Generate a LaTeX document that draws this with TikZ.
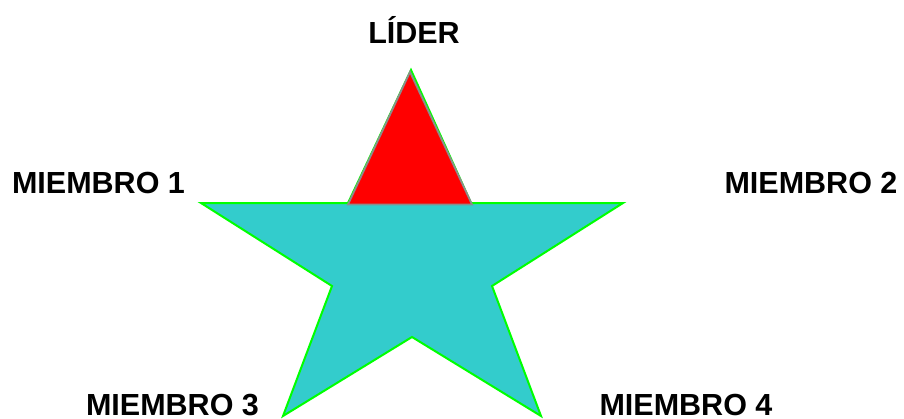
\documentclass[tikz,border=0pt]{standalone}
\usepackage{fontspec}
\setmainfont{Liberation Sans}
\definecolor{starfill}{HTML}{33CCCC}
\definecolor{stargreen}{HTML}{00FF00}
\definecolor{triedge}{HTML}{8C8C8C}
\begin{document}
\begin{tikzpicture}[x=1pt,y=-1pt,
  lbl/.style={anchor=base,inner sep=0pt,font=\fontsize{30.5}{34}\selectfont\bfseries},
  starshape/.style={fill=starfill,draw=stargreen,line width=2pt,line join=miter},
  tri/.style={fill=red,draw=triedge,line width=1.8pt,line join=miter}]
\useasboundingbox (0,0) rectangle (904,418);
\coordinate (t) at (411,70);
\coordinate (il) at (348,203);
\coordinate (lt) at (201,203);
\coordinate (ill) at (332,286);
\coordinate (bl) at (283,416);
\coordinate (bc) at (412,337);
\coordinate (br) at (541,416);
\coordinate (ilr) at (492,286);
\coordinate (rt) at (623,203);
\coordinate (ir) at (471,203);
\draw[starshape] (t) -- (il) -- (lt) -- (ill) -- (bl) -- (bc) -- (br) -- (ilr) -- (rt) -- (ir) -- cycle;
\coordinate (tt) at (410,72);
\coordinate (tl) at (348,204.5);
\coordinate (tr) at (472,204.5);
\draw[tri] (tt) -- (tl) -- (tr) -- cycle;
\node[lbl] (lider) at (414,43) {LÍDER};
\node[lbl] (m1) at (98.5,193) {MIEMBRO 1};
\node[lbl] (m2) at (811,193) {MIEMBRO 2};
\node[lbl] (m3) at (172.5,415.5) {MIEMBRO 3};
\node[lbl] (m4) at (686,415.5) {MIEMBRO 4};
\end{tikzpicture}
\end{document}
